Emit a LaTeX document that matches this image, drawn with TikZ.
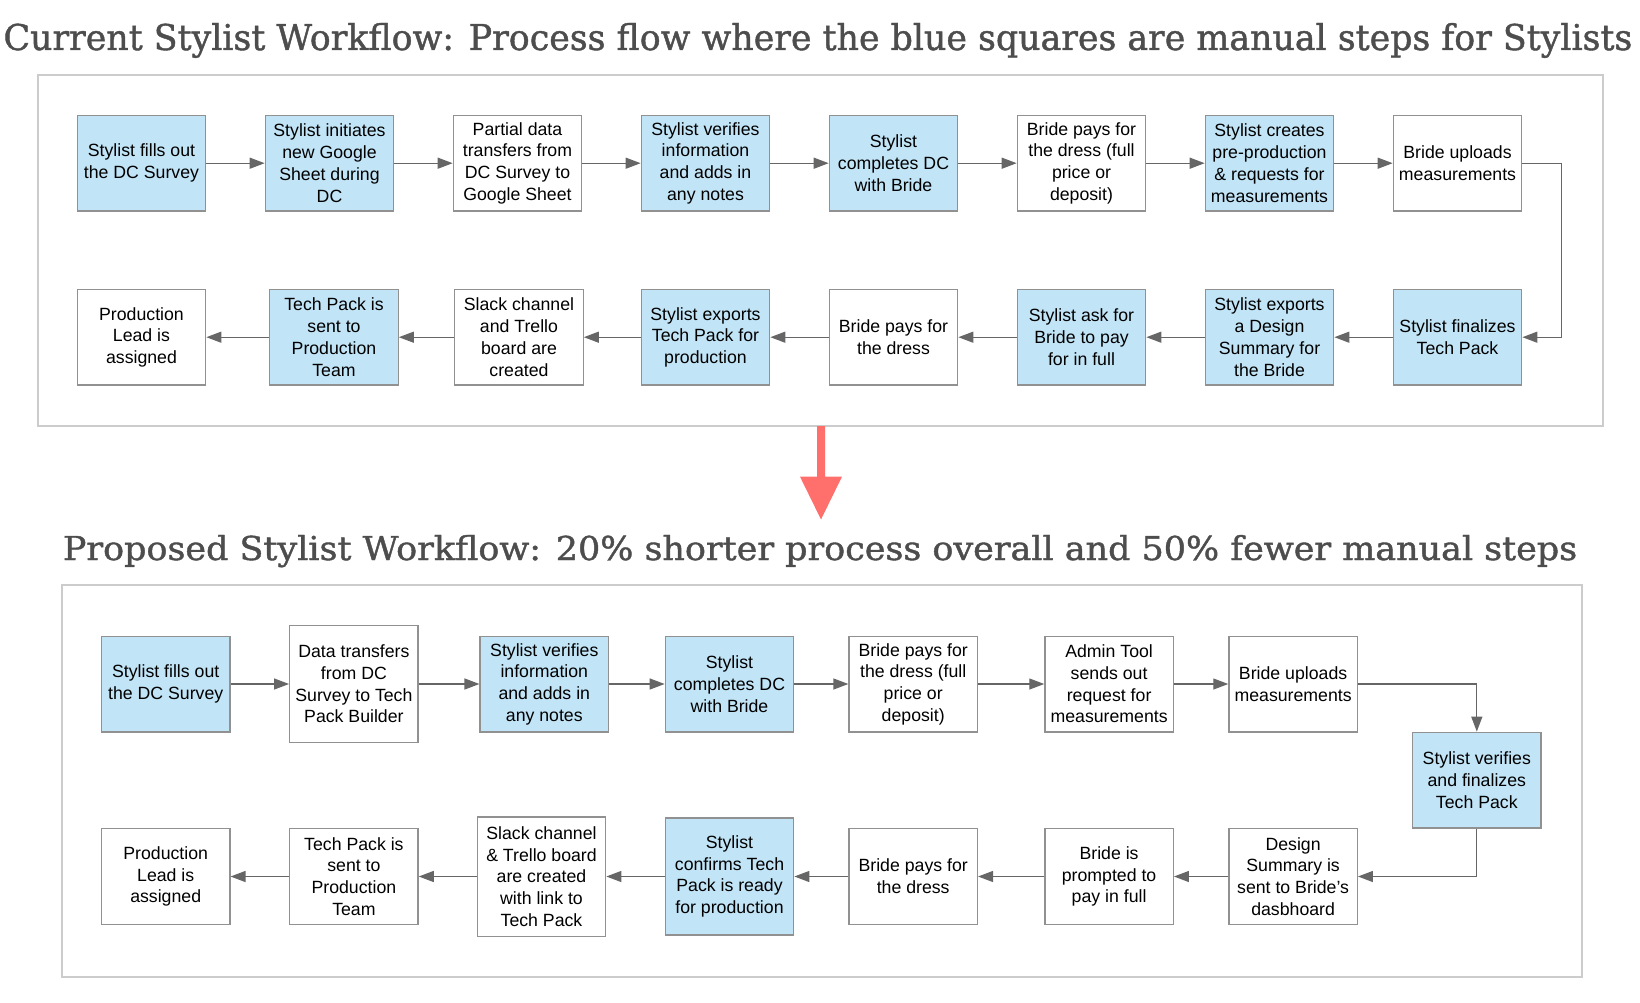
\documentclass[tikz,border=0pt]{standalone}
\usepackage{fontspec}
\setmainfont{Liberation Sans}
\newfontfamily\titlefont[FakeBold=1.2]{DejaVu Serif}
\usetikzlibrary{arrows.meta}
\definecolor{boxblue}{RGB}{193,228,246}
\definecolor{boxline}{RGB}{145,145,145}
\definecolor{arrowgray}{RGB}{102,102,102}
\definecolor{framegray}{RGB}{204,204,204}
\definecolor{titlegray}{RGB}{77,77,77}
\definecolor{redarrow}{RGB}{255,112,108}
\tikzset{
  stepbox/.style={draw=boxline, line width=1.3pt, fill=white, minimum width=128.4pt, minimum height=95.7pt, inner sep=0pt, align=center, font=\fontsize{17.7}{21.7}\selectfont},
  manual/.style={stepbox, fill=boxblue},
  flow/.style={draw=arrowgray, line width=1.3pt, -{Triangle[length=15pt,width=11pt]}},
  frame/.style={draw=framegray, line width=2pt},
  titletext/.style={inner sep=0pt, text=titlegray}
}
\begin{document}
\begin{tikzpicture}[x=1pt, y=-1pt]
\useasboundingbox (0,0) rectangle (1640,1003);
% titles
\node[titletext, anchor=base west] (t1) at (3.3,50) {\resizebox{1628.7pt}{27pt}{\titlefont Current Stylist Workflow: Process flow where the blue squares are manual steps for Stylists}};
\node[titletext, anchor=base west] (t2) at (62.7,560) {\resizebox{1514pt}{25pt}{\titlefont Proposed Stylist Workflow: 20\% shorter process overall and 50\% fewer manual steps}};
% frames
\draw[frame] (37.7,74.6) rectangle (1602.7,425.7);
\draw[frame] (61.7,585) rectangle (1581.7,977);
% red arrow
\fill[redarrow] (817,426) -- (825,426) -- (825,476.7) -- (842,476.7) -- (821,519.5) -- (800,476.7) -- (817,476.7) -- cycle;

% ---------- current workflow, row 1
\node[manual]  (a1) at (141.5,163.2) {Stylist fills out\\the DC Survey};
\node[manual]  (a2) at (329.5,163.2) {Stylist initiates\\new Google\\Sheet during\\DC};
\node[stepbox] (a3) at (517.5,163.2) {Partial data\\transfers from\\DC Survey to\\Google Sheet};
\node[manual]  (a4) at (705.5,163.2) {Stylist verifies\\information\\and adds in\\any notes};
\node[manual]  (a5) at (893.5,163.2) {Stylist\\completes DC\\with Bride};
\node[stepbox] (a6) at (1081.5,163.2) {Bride pays for\\the dress (full\\price or\\deposit)};
\node[manual]  (a7) at (1269.5,163.2) {Stylist creates\\pre-production\\\& requests for\\measurements};
\node[stepbox] (a8) at (1457.5,163.2) {Bride uploads\\measurements};
% row 2
\node[manual]  (b8) at (1457.5,337.2) {Stylist finalizes\\Tech Pack};
\node[manual]  (b7) at (1269.5,337.2) {Stylist exports\\a Design\\Summary for\\the Bride};
\node[manual]  (b6) at (1081.5,337.2) {Stylist ask for\\Bride to pay\\for in full};
\node[stepbox] (b5) at (893.5,337.2) {Bride pays for\\the dress};
\node[manual]  (b4) at (705.5,337.2) {Stylist exports\\Tech Pack for\\production};
\node[stepbox] (b3) at (519,337.2) {Slack channel\\and Trello\\board are\\created};
\node[manual]  (b2) at (334,337.2) {Tech Pack is\\sent to\\Production\\Team};
\node[stepbox] (b1) at (141.5,337.2) {Production\\Lead is\\assigned};
\coordinate (ca) at (1561.7,163.2);
\coordinate (cb) at (1561.7,337.2);
\foreach \u/\v in {a1/a2,a2/a3,a3/a4,a4/a5,a5/a6,a6/a7,a7/a8,b8/b7,b7/b6,b6/b5,b5/b4,b4/b3,b3/b2,b2/b1}
  \draw[flow] (\u) -- (\v);
\draw[flow] (a8.east) -- (ca) -- (cb) -- (b8.east);

% ---------- proposed workflow, row 1
\node[manual]  (p1) at (165.7,684) {Stylist fills out\\the DC Survey};
\node[stepbox, minimum height=117.1pt] (p2) at (353.9,684) {Data transfers\\from DC\\Survey to Tech\\Pack Builder};
\node[manual]  (p3) at (544.3,684) {Stylist verifies\\information\\and adds in\\any notes};
\node[manual]  (p4) at (729.5,684) {Stylist\\completes DC\\with Bride};
\node[stepbox] (p5) at (913.2,684) {Bride pays for\\the dress (full\\price or\\deposit)};
\node[stepbox] (p6) at (1109.1,684) {Admin Tool\\sends out\\request for\\measurements};
\node[stepbox] (p7) at (1293.1,684) {Bride uploads\\measurements};
\node[manual]  (pr) at (1476.8,780.1) {Stylist verifies\\and finalizes\\Tech Pack};
% row 2
\node[stepbox] (q7) at (1293.1,876.5) {Design\\Summary is\\sent to Bride{\char"0027}s\\dasbhoard};
\node[stepbox] (q6) at (1109.1,876.5) {Bride is\\prompted to\\pay in full};
\node[stepbox] (q5) at (913.2,876.5) {Bride pays for\\the dress};
\node[manual, minimum height=117.2pt] (q4) at (729.5,876.5) {Stylist\\confirms Tech\\Pack is ready\\for production};
\node[stepbox, minimum height=119.3pt] (q3) at (541.5,876.5) {Slack channel\\\& Trello board\\are created\\with link to\\Tech Pack};
\node[stepbox] (q2) at (353.9,876.5) {Tech Pack is\\sent to\\Production\\Team};
\node[stepbox] (q1) at (165.7,876.5) {Production\\Lead is\\assigned};
\coordinate (cp) at (pr.north |- p7.east);
\coordinate (cq) at (pr.south |- q7.east);
\foreach \u/\v in {p1/p2,p2/p3,p3/p4,p4/p5,p5/p6,p6/p7,q7/q6,q6/q5,q5/q4,q4/q3,q3/q2,q2/q1}
  \draw[flow] (\u) -- (\v);
\draw[flow] (p7.east) -- (cp) -- (pr.north);
\draw[flow] (pr.south) -- (cq) -- (q7.east);
\end{tikzpicture}
\end{document}
